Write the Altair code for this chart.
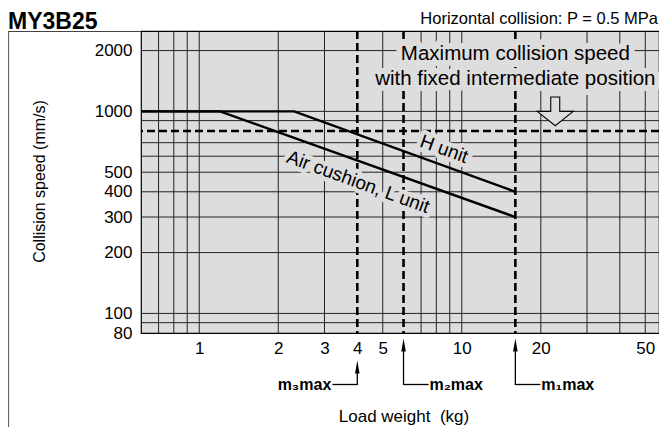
import altair as alt
import pandas as pd

# ---- data ----
h_x = [0.6, 2.3, 16]
h_y = [1000, 1000, 400]
l_x = [0.6, 1.2, 16]
l_y = [1000, 1000, 300]
x_labels = [1, 2, 3, 4, 5, 10, 20, 50]
y_labels = [80, 100, 200, 300, 400, 500, 1000, 2000]
x_grid = [0.7, 0.8, 0.9, 1, 2, 3, 5, 7, 8, 9, 10, 20, 30, 40, 50]
y_grid = [90, 100, 200, 300, 400, 500, 600, 700, 900, 1000, 2000]
m_names = ["m\u2083max", "m\u2082max", "m\u2081max"]
m_values = [4, 6, 16]
max_speed = [800]
unit_labels = ["H unit", "Air cushion, L unit"]
unit_label_x = [8.56, 4.03]
unit_label_y = [651, 447]
box_lines = ["Maximum collision speed", "with fixed intermediate position"]
box_x = [16.0, 16.0]
box_y = [1797, 1351]
arrow_x = [22.7]
arrow_y = [1000]

BG = "#dddddd"
F = "Liberation Sans"

xs = alt.Scale(type="log", domain=[0.6, 56.4], nice=False)
ys = alt.Scale(type="log", domain=[80, 2500], nice=False)

xaxis = alt.Axis(values=x_labels, format="d", grid=False, ticks=False, tickSize=0,
                 domain=False, labelFontSize=17, labelFont=F, labelColor="black",
                 labelPadding=7, labelOverlap=False, labelFlush=False, labelBound=False,
                 title="Load weight\u00a0 (kg)", titleFont=F, titleFontSize=17,
                 titleFontWeight="normal", titleColor="black", titleX=262.5, titleY=88,
                 titleAlign="center", titleBaseline="alphabetic")
yaxis = alt.Axis(values=y_labels, format="d", grid=False, ticks=False, tickSize=0,
                 domain=False, labelFontSize=17, labelFont=F, labelColor="black",
                 labelPadding=9, labelOverlap=False, labelFlush=False, labelBound=False,
                 title="Collision speed (mm/s)", titleFont=F, titleFontSize=16,
                 titleFontWeight="normal", titleColor="black", titleX=-97, titleY=150,
                 titleAngle=-90, titleAlign="center", titleBaseline="alphabetic")


def X(f):
    return alt.X(f, type="quantitative", scale=xs, axis=xaxis)


def Y(f):
    return alt.Y(f, type="quantitative", scale=ys, axis=yaxis)


lines_df = pd.DataFrame({"w": h_x + l_x, "v": h_y + l_y, "s": ["H"] * 3 + ["L"] * 3})
xg_df = pd.DataFrame({"w": x_grid})
yg_df = pd.DataFrame({"v": y_grid})
m_df = pd.DataFrame({"w": m_values, "t": m_names})
h_df = pd.DataFrame({"v": max_speed})
ul_df = pd.DataFrame({"w": unit_label_x, "v": unit_label_y, "t": unit_labels})
box_df = pd.DataFrame({"w": box_x, "v": box_y, "t": box_lines})
arr_df = pd.DataFrame({"w": arrow_x, "v": arrow_y})
one = pd.DataFrame({"a": [0]})

xgrid = alt.Chart(xg_df).mark_rule(color="#222222", strokeWidth=1).encode(x=X("w"))
ygrid = alt.Chart(yg_df).mark_rule(color="#222222", strokeWidth=1).encode(y=Y("v"))

dash_v = alt.Chart(m_df).mark_rule(color="black", strokeWidth=2.6, strokeDash=[8, 4]).encode(x=X("w"))
dash_h = alt.Chart(h_df).mark_rule(color="black", strokeWidth=2.6, strokeDash=[8, 4]).encode(y=Y("v"))

ul_halo = alt.Chart(ul_df).mark_text(angle=20, fontSize=19, font=F, fill=BG, stroke=BG,
                                     strokeWidth=9, strokeJoin="round", align="center",
                                     baseline="middle").encode(x=X("w"), y=Y("v"), text="t:N")
ul_text = alt.Chart(ul_df).mark_text(angle=20, fontSize=19, font=F, color="black",
                                     align="center", baseline="middle").encode(
    x=X("w"), y=Y("v"), text="t:N")

box_halo = alt.Chart(box_df).mark_text(fontSize=20.5, font=F, fill=BG, stroke=BG, strokeWidth=12,
                                       strokeJoin="round", align="center", clip=True,
                                       baseline="alphabetic").encode(x=X("w"), y=Y("v"), text="t:N")
box_text = alt.Chart(box_df).mark_text(fontSize=20.5, font=F, color="black", align="center",
                                       baseline="alphabetic").encode(x=X("w"), y=Y("v"), text="t:N")

arrow = alt.Chart(arr_df).mark_point(
    shape="M-0.25,-0.8L0.25,-0.8L0.25,0L1,0L0,0.8L-1,0L-0.25,0Z",
    size=1296, filled=True, fill=BG, stroke="black", strokeWidth=1.1,
    opacity=1, fillOpacity=1, strokeOpacity=1).encode(x=X("w"), y=Y("v"))

lines = alt.Chart(lines_df).mark_line(color="black", strokeWidth=2.4).encode(
    x=X("w"), y=Y("v"), detail="s:N")

# annotations below the plot
tri = "M0,-1L0.35,1L-0.35,1Z"
low = alt.Chart(m_df).transform_filter(alt.datum.w == 4)
high = alt.Chart(m_df).transform_filter(alt.datum.w != 4)
arr_low = low.mark_point(shape=tri, size=169, filled=True, color="black", opacity=1).encode(
    x=X("w"), y=alt.value(336))
arr_high = high.mark_point(shape=tri, size=169, filled=True, color="black", opacity=1).encode(
    x=X("w"), y=alt.value(314))
stem_low = low.mark_rule(color="black", strokeWidth=1.3).encode(
    x=X("w"), y=alt.value(342), y2=alt.value(354))
stem_high = high.mark_rule(color="black", strokeWidth=1.3).encode(
    x=X("w"), y=alt.value(320), y2=alt.value(354))
hor_low = low.mark_rule(color="black", strokeWidth=1.3, x2Offset=-25).encode(
    x=X("w"), x2=alt.X2("w"), y=alt.value(353.5))
hor_high = high.mark_rule(color="black", strokeWidth=1.3, x2Offset=25).encode(
    x=X("w"), x2=alt.X2("w"), y=alt.value(353.5))
lab_low = low.mark_text(align="right", dx=-26, baseline="middle", fontSize=16, font=F,
                        fontWeight="bold", color="black").encode(
    x=X("w"), y=alt.value(354), text="t:N")
lab_high = high.mark_text(align="left", dx=26, baseline="middle", fontSize=16, font=F,
                          fontWeight="bold", color="black").encode(
    x=X("w"), y=alt.value(354), text="t:N")

# outer frame and titles
frame_left = alt.Chart(one).mark_rule(color="#666666", strokeWidth=1.2).encode(
    x=alt.value(-132.5), y=alt.value(0), y2=alt.value(396))
frame_top = alt.Chart(one).mark_rule(color="#444444", strokeWidth=1.2).encode(
    x=alt.value(-133), x2=alt.value(0), y=alt.value(0.5))
title = alt.Chart(one).mark_text(text="MY3B25", fontSize=23, font=F, fontWeight="bold",
                                 align="left", baseline="alphabetic", color="black").encode(
    x=alt.value(-133), y=alt.value(-2))
subtitle = alt.Chart(one).mark_text(text="Horizontal collision: P = 0.5 MPa", fontSize=16.5,
                                    font=F, align="right", baseline="alphabetic",
                                    color="black").encode(x=alt.value(517), y=alt.value(-7))

chart = alt.layer(
    xgrid, ygrid, dash_v, dash_h, ul_halo, box_halo, lines, ul_text, box_text, arrow,
    arr_low, arr_high, stem_low, stem_high, hor_low, hor_high, lab_low, lab_high,
    frame_left, frame_top, title, subtitle
).properties(
    width=518, height=302,
    padding={"left": 133, "top": 23, "right": 0, "bottom": 94},
    autosize=alt.AutoSizeParams(type="none"),
    background="white",
).configure_view(stroke="black", strokeWidth=1.2, fill=BG)

chart.save("out.html", embed_options={"renderer": "svg", "actions": False})
